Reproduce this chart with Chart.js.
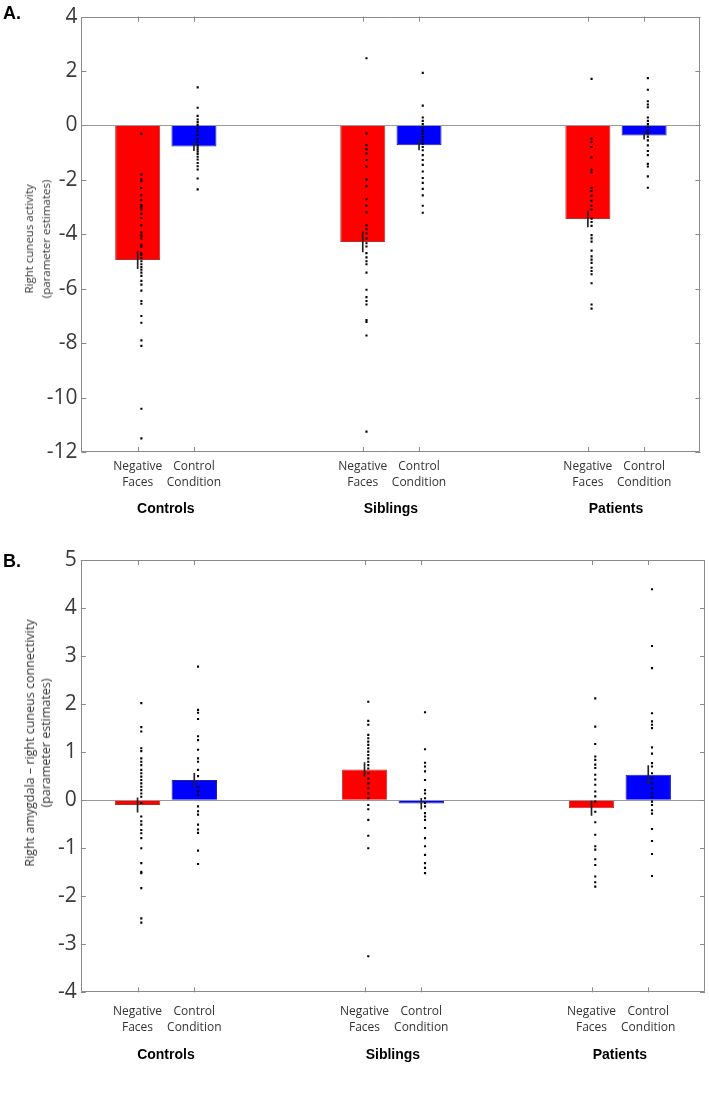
<!DOCTYPE html>
<html>
<head>
<meta charset="utf-8">
<script src="https://cdn.jsdelivr.net/npm/chart.js@4.4.1/dist/chart.umd.min.js"></script>
<style>
  html, body { margin: 0; padding: 0; background: #fff; }
  #page { position: relative; width: 709px; height: 1095px; overflow: hidden; }
  .panel { position: absolute; left: 0; }
  .letter { position: absolute; left: 3px; font: bold 18px "Liberation Sans", Arial, sans-serif; color: #000; }
  .ytitle {
    position: absolute;
    transform: translate(-50%, -50%) rotate(-90deg);
    white-space: nowrap;
    text-align: center;
    font-family: "Open Sans", sans-serif;
    color: #333;
  }
</style>
</head>
<body>
<div id="page">
  <div class="panel" style="top:0"><canvas id="chart-a" width="709" height="540"></canvas></div>
  <div class="panel" style="top:540px"><canvas id="chart-b" width="709" height="555"></canvas></div>
  <div class="letter" style="top:3px">A.</div>
  <div class="letter" style="top:551px">B.</div>
  <div class="ytitle" style="left:37px; top:239px; font-size:11.5px; line-height:17px">Right cuneus activity<br>(parameter estimates)</div>
  <div class="ytitle" style="left:38px; top:743px; font-size:12.5px; line-height:16px">Right amygdala – right cuneus connectivity<br>(parameter estimates)</div>
</div>
<script>
// --- shared categories ---
const condPos = [1, 2, 5, 6, 9, 10];
const condLabels = [
  ['Negative', 'Faces'], ['Control', 'Condition'],
  ['Negative', 'Faces'], ['Control', 'Condition'],
  ['Negative', 'Faces'], ['Control', 'Condition']
];
const groupPos = [1.5, 5.5, 9.5];
const groupLabels = ['Controls', 'Siblings', 'Patients'];
const barColors = ['#ff0000', '#0000ff', '#ff0000', '#0000ff', '#ff0000', '#0000ff'];
const barEdges = ['#b03030', '#2020a0', '#b03030', '#2020a0', '#b03030', '#2020a0'];

// --- panel A: right cuneus activity ---
const yTicksA = [-12, -10, -8, -6, -4, -2, 0, 2, 4];
const meansA = [-4.94, -0.77, -4.28, -0.73, -3.44, -0.37];
const semA = [0.32, 0.16, 0.37, 0.17, 0.29, 0.13];
const ctrlNegA = [-0.31, -1.80, -1.99, -2.05, -2.30, -2.57, -2.75, -2.93, -3.00, -3.09, -3.25, -3.40, -3.67, -3.93, -4.05, -4.15, -4.39, -4.45, -4.69, -4.75, -4.87, -4.99, -5.10, -5.20, -5.30, -5.41, -5.53, -5.71, -5.85, -6.07, -6.45, -6.55, -7.00, -7.25, -7.90, -8.10, -10.41, -11.50];
const ctrlConA = [1.40, 0.65, 0.35, 0.22, 0.12, 0.02, -0.10, -0.22, -0.35, -0.48, -0.60, -0.72, -0.80, -0.88, -0.96, -1.05, -1.15, -1.25, -1.38, -1.50, -1.62, -1.95, -2.35];
const sibNegA = [2.47, -0.29, -0.73, -0.88, -1.03, -1.27, -1.51, -1.99, -2.23, -2.71, -2.95, -3.19, -3.67, -3.82, -3.97, -4.15, -4.33, -4.45, -4.69, -4.85, -4.99, -5.10, -5.41, -6.04, -6.31, -6.45, -6.58, -7.15, -7.22, -7.72, -11.25];
const sibConA = [1.93, 0.73, 0.29, 0.17, 0.05, -0.07, -0.19, -0.31, -0.43, -0.55, -0.67, -0.79, -0.91, -1.09, -1.27, -1.45, -1.69, -1.93, -2.11, -2.33, -2.57, -2.95, -3.21];
const patNegA = [1.71, -0.49, -0.61, -0.79, -1.18, -1.63, -1.72, -2.29, -2.41, -2.59, -2.77, -2.95, -3.09, -3.43, -3.55, -3.69, -4.03, -4.15, -4.27, -4.60, -4.81, -4.93, -5.05, -5.23, -5.35, -5.47, -5.80, -6.58, -6.73];
const patConA = [1.74, 1.31, 0.89, 0.77, 0.67, 0.29, 0.17, 0.05, -0.05, -0.17, -0.29, -0.41, -0.55, -0.73, -0.94, -1.09, -1.41, -1.51, -1.87, -2.29];

// --- panel B: amygdala - cuneus connectivity ---
const yTicksB = [-4, -3, -2, -1, 0, 1, 2, 3, 4, 5];
const meansB = [-0.10, 0.42, 0.64, -0.07, -0.17, 0.53];
const semB = [0.15, 0.14, 0.14, 0.11, 0.15, 0.19];
const ctrlNegB = [2.02, 1.52, 1.43, 1.08, 1.02, 0.87, 0.80, 0.73, 0.63, 0.56, 0.49, 0.42, 0.35, 0.28, 0.21, 0.14, 0.07, -0.06, -0.34, -0.44, -0.51, -0.62, -0.69, -0.79, -1.00, -1.31, -1.49, -1.52, -1.83, -2.46, -2.55];
const ctrlConB = [2.78, 1.88, 1.82, 1.69, 1.33, 1.25, 1.05, 0.87, 0.80, 0.63, 0.50, 0.28, 0.18, 0.10, -0.13, -0.23, -0.30, -0.51, -0.61, -0.68, -1.05, -1.33];
const sibNegB = [2.05, 1.65, 1.57, 1.36, 1.29, 1.22, 1.15, 1.08, 1.01, 0.94, 0.87, 0.80, 0.73, 0.66, 0.56, 0.45, 0.35, 0.25, 0.14, 0.04, -0.10, -0.19, -0.41, -0.74, -1.00, -3.25];
const sibConB = [1.83, 1.06, 0.78, 0.70, 0.60, 0.42, 0.21, 0.14, 0.04, -0.06, -0.13, -0.27, -0.34, -0.41, -0.58, -0.79, -0.96, -1.14, -1.31, -1.41, -1.52];
const patNegB = [2.12, 1.53, 1.17, 0.91, 0.84, 0.74, 0.67, 0.53, 0.43, 0.32, 0.18, 0.08, -0.03, -0.24, -0.46, -0.72, -0.96, -1.03, -1.23, -1.35, -1.59, -1.71, -1.80];
const patConB = [4.39, 3.21, 2.75, 1.81, 1.64, 1.57, 1.50, 1.10, 0.97, 0.77, 0.70, 0.56, 0.46, 0.35, 0.25, 0.14, 0.07, -0.03, -0.10, -0.21, -0.28, -0.60, -0.85, -1.12, -1.58];

const dotShift = 0.066; // subjects are plotted slightly right of the bar centre

// box round the plot area with MATLAB style inward ticks
const boxTicks = {
  id: 'boxTicks',
  afterDraw(chart) {
    const { ctx, chartArea: a, scales } = chart;
    const x = scales.x, y = scales.y;
    ctx.save();
    ctx.strokeStyle = '#8a8a8a';
    ctx.lineWidth = 1;
    ctx.beginPath();
    ctx.rect(Math.round(a.left) + 0.5, Math.round(a.top) + 0.5,
             Math.round(a.width) - 1, Math.round(a.height) - 1);
    x.ticks.forEach(t => {
      const px = Math.round(x.getPixelForValue(t.value)) + 0.5;
      ctx.moveTo(px, a.bottom); ctx.lineTo(px, a.bottom - 5);
      ctx.moveTo(px, a.top); ctx.lineTo(px, a.top + 5);
    });
    y.ticks.forEach(t => {
      const py = Math.round(y.getPixelForValue(t.value)) + 0.5;
      ctx.moveTo(a.left, py); ctx.lineTo(a.left + 5, py);
      ctx.moveTo(a.right, py); ctx.lineTo(a.right - 5, py);
    });
    ctx.stroke();
    ctx.restore();
  }
};

const makePanel = (canvasId, p) => {
  const dots = p.subjects.flatMap((vals, i) => vals.map(v => ({ x: condPos[i] + dotShift, y: v })));
  return new Chart(document.getElementById(canvasId), {
    type: 'bar',
    data: {
      datasets: [{
        type: 'scatter',
        data: dots,
        xAxisID: 'x',
        pointStyle: 'rect',
        pointRadius: 1.5,
        pointBackgroundColor: '#000',
        pointBorderWidth: 0,
        order: 1
      }, {
        data: condPos.map((x, i) => ({ x: x, y: [p.means[i] - p.sem[i], p.means[i] + p.sem[i]] })),
        xAxisID: 'x',
        backgroundColor: '#222',
        barThickness: 1,
        grouped: false,
        order: 2
      }, {
        data: condPos.map((x, i) => ({ x: x, y: p.means[i] })),
        xAxisID: 'x',
        backgroundColor: barColors,
        borderColor: barEdges,
        borderWidth: 1,
        categoryPercentage: 1,
        barPercentage: 0.8,
        grouped: false,
        order: 3
      }]
    },
    options: {
      responsive: false,
      animation: false,
      devicePixelRatio: 1,
      layout: { padding: p.padding },
      plugins: { legend: { display: false }, tooltip: { enabled: false } },
      scales: {
        x: {
          type: 'linear', position: 'bottom', min: 0, max: 11, offset: false,
          grid: { display: false, drawTicks: false, offset: false },
          border: { display: false },
          afterBuildTicks: s => { s.ticks = condPos.map(v => ({ value: v })); },
          afterFit: s => { s.height = p.condHeight; },
          ticks: {
            autoSkip: false, maxRotation: 0, padding: p.condPad,
            color: '#333',
            font: { family: 'Open Sans', size: 12, lineHeight: 1.3 },
            callback: (v, i) => condLabels[i]
          }
        },
        groups: {
          type: 'linear', position: 'bottom', min: 0, max: 11, offset: false,
          grid: { display: false, drawTicks: false, offset: false },
          border: { display: false },
          afterBuildTicks: s => { s.ticks = groupPos.map(v => ({ value: v })); },
          afterFit: s => { s.height = p.groupHeight; },
          ticks: {
            autoSkip: false, maxRotation: 0, padding: p.groupPad,
            color: '#000',
            font: { family: 'Liberation Sans', size: 14, weight: 'bold' },
            callback: (v, i) => groupLabels[i]
          }
        },
        y: {
          type: 'linear', min: p.yTicks[0], max: p.yTicks[p.yTicks.length - 1],
          afterBuildTicks: s => { s.ticks = p.yTicks.map(v => ({ value: v })); },
          afterFit: s => { s.width = p.yWidth; },
          grid: {
            drawTicks: false,
            color: c => (c.tick && c.tick.value === 0 ? '#9a9a9a' : 'rgba(0,0,0,0)')
          },
          border: { display: false },
          ticks: {
            padding: 4,
            color: '#3a3a3a',
            font: { family: 'Open Sans', size: 21 }
          }
        }
      }
    },
    plugins: [boxTicks]
  });
};

makePanel('chart-a', {
  means: meansA, sem: semA, yTicks: yTicksA,
  subjects: [ctrlNegA, ctrlConA, sibNegA, sibConA, patNegA, patConA],
  padding: { left: 0, top: 7, right: 8.6, bottom: 0 },
  yWidth: 81.4, condHeight: 45, condPad: 7, groupHeight: 43, groupPad: 4
});

makePanel('chart-b', {
  means: meansB, sem: semB, yTicks: yTicksB,
  subjects: [ctrlNegB, ctrlConB, sibNegB, sibConB, patNegB, patConB],
  padding: { left: 0, top: 20, right: 2, bottom: 0 },
  yWidth: 80.8, condHeight: 50, condPad: 11.5, groupHeight: 52.7, groupPad: 4
});
</script>
</body>
</html>
